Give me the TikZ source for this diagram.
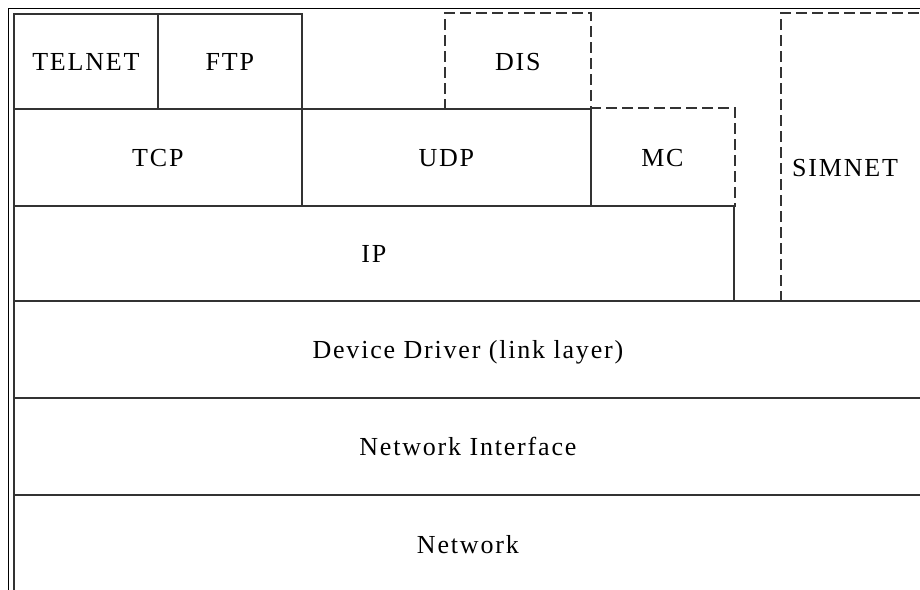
\documentclass[tikz,border=0pt]{standalone}
\usepackage{fontspec}
\setmainfont[LetterSpace=7]{Liberation Serif}
\begin{document}
\begin{tikzpicture}[x=1pt,y=-1pt,
  layer/.style={draw=black!80, line width=1.8pt, rectangle, inner sep=0pt,
    anchor=north west, font=\fontsize{26}{30}\selectfont,
    text height=18pt, text depth=0pt},
  openlayer/.style={layer, draw=none},
  dashedge/.style={draw=black!80, line width=1.8pt, dash pattern=on 11pt off 5pt},
  frame/.style={draw=black, line width=1pt}
]
\useasboundingbox (0,0) rectangle (920,589);
\fill[white] (0,0) rectangle (920,589);

% outer frame
\draw[frame] (8,600) -- (8,8) -- (930,8);

% application layer
\node[layer, minimum width=144pt, minimum height=95pt] (telnet) at (13,13) {TELNET};
\node[layer, minimum width=144pt, minimum height=95pt] (ftp) at (157,13) {FTP};
\node[openlayer, minimum width=144pt, minimum height=95pt] (dis) at (445,13) {DIS};

% transport layer
\node[layer, minimum width=288pt, minimum height=97pt] (tcp) at (13,108) {TCP};
\node[layer, minimum width=289pt, minimum height=97pt] (udp) at (301,108) {UDP};
\node[openlayer, minimum width=143pt, minimum height=97pt] (mc) at (590,108) {MC};

% network layer
\node[layer, minimum width=720pt, minimum height=95pt] (ip) at (13,205) {IP};
\node[openlayer, minimum width=150pt, minimum height=287pt] (simnet) at (781,13) {};
\node[anchor=west, inner sep=0pt, font=\fontsize{26}{30}\selectfont,
  text height=18pt, text depth=0pt] (simnetlabel) at (792,167) {SIMNET};

% lower layers
\node[layer, minimum width=908pt, minimum height=97pt] (driver) at (13,300) {Device Driver (link layer)};
\node[layer, minimum width=908pt, minimum height=97pt] (nic) at (13,397) {Network Interface};
\node[layer, minimum width=908pt, minimum height=100pt] (net) at (13,494) {Network};

% dashed borders of the optional modules
\draw[dashedge] (dis.south west) -- (dis.north west) -- (dis.north east) -- (dis.south east);
\draw[dashedge] (mc.north west) -- (mc.north east) -- (mc.south east);
\draw[dashedge] (simnet.south west) -- (simnet.north west) -- (simnet.north east);
\end{tikzpicture}
\end{document}
